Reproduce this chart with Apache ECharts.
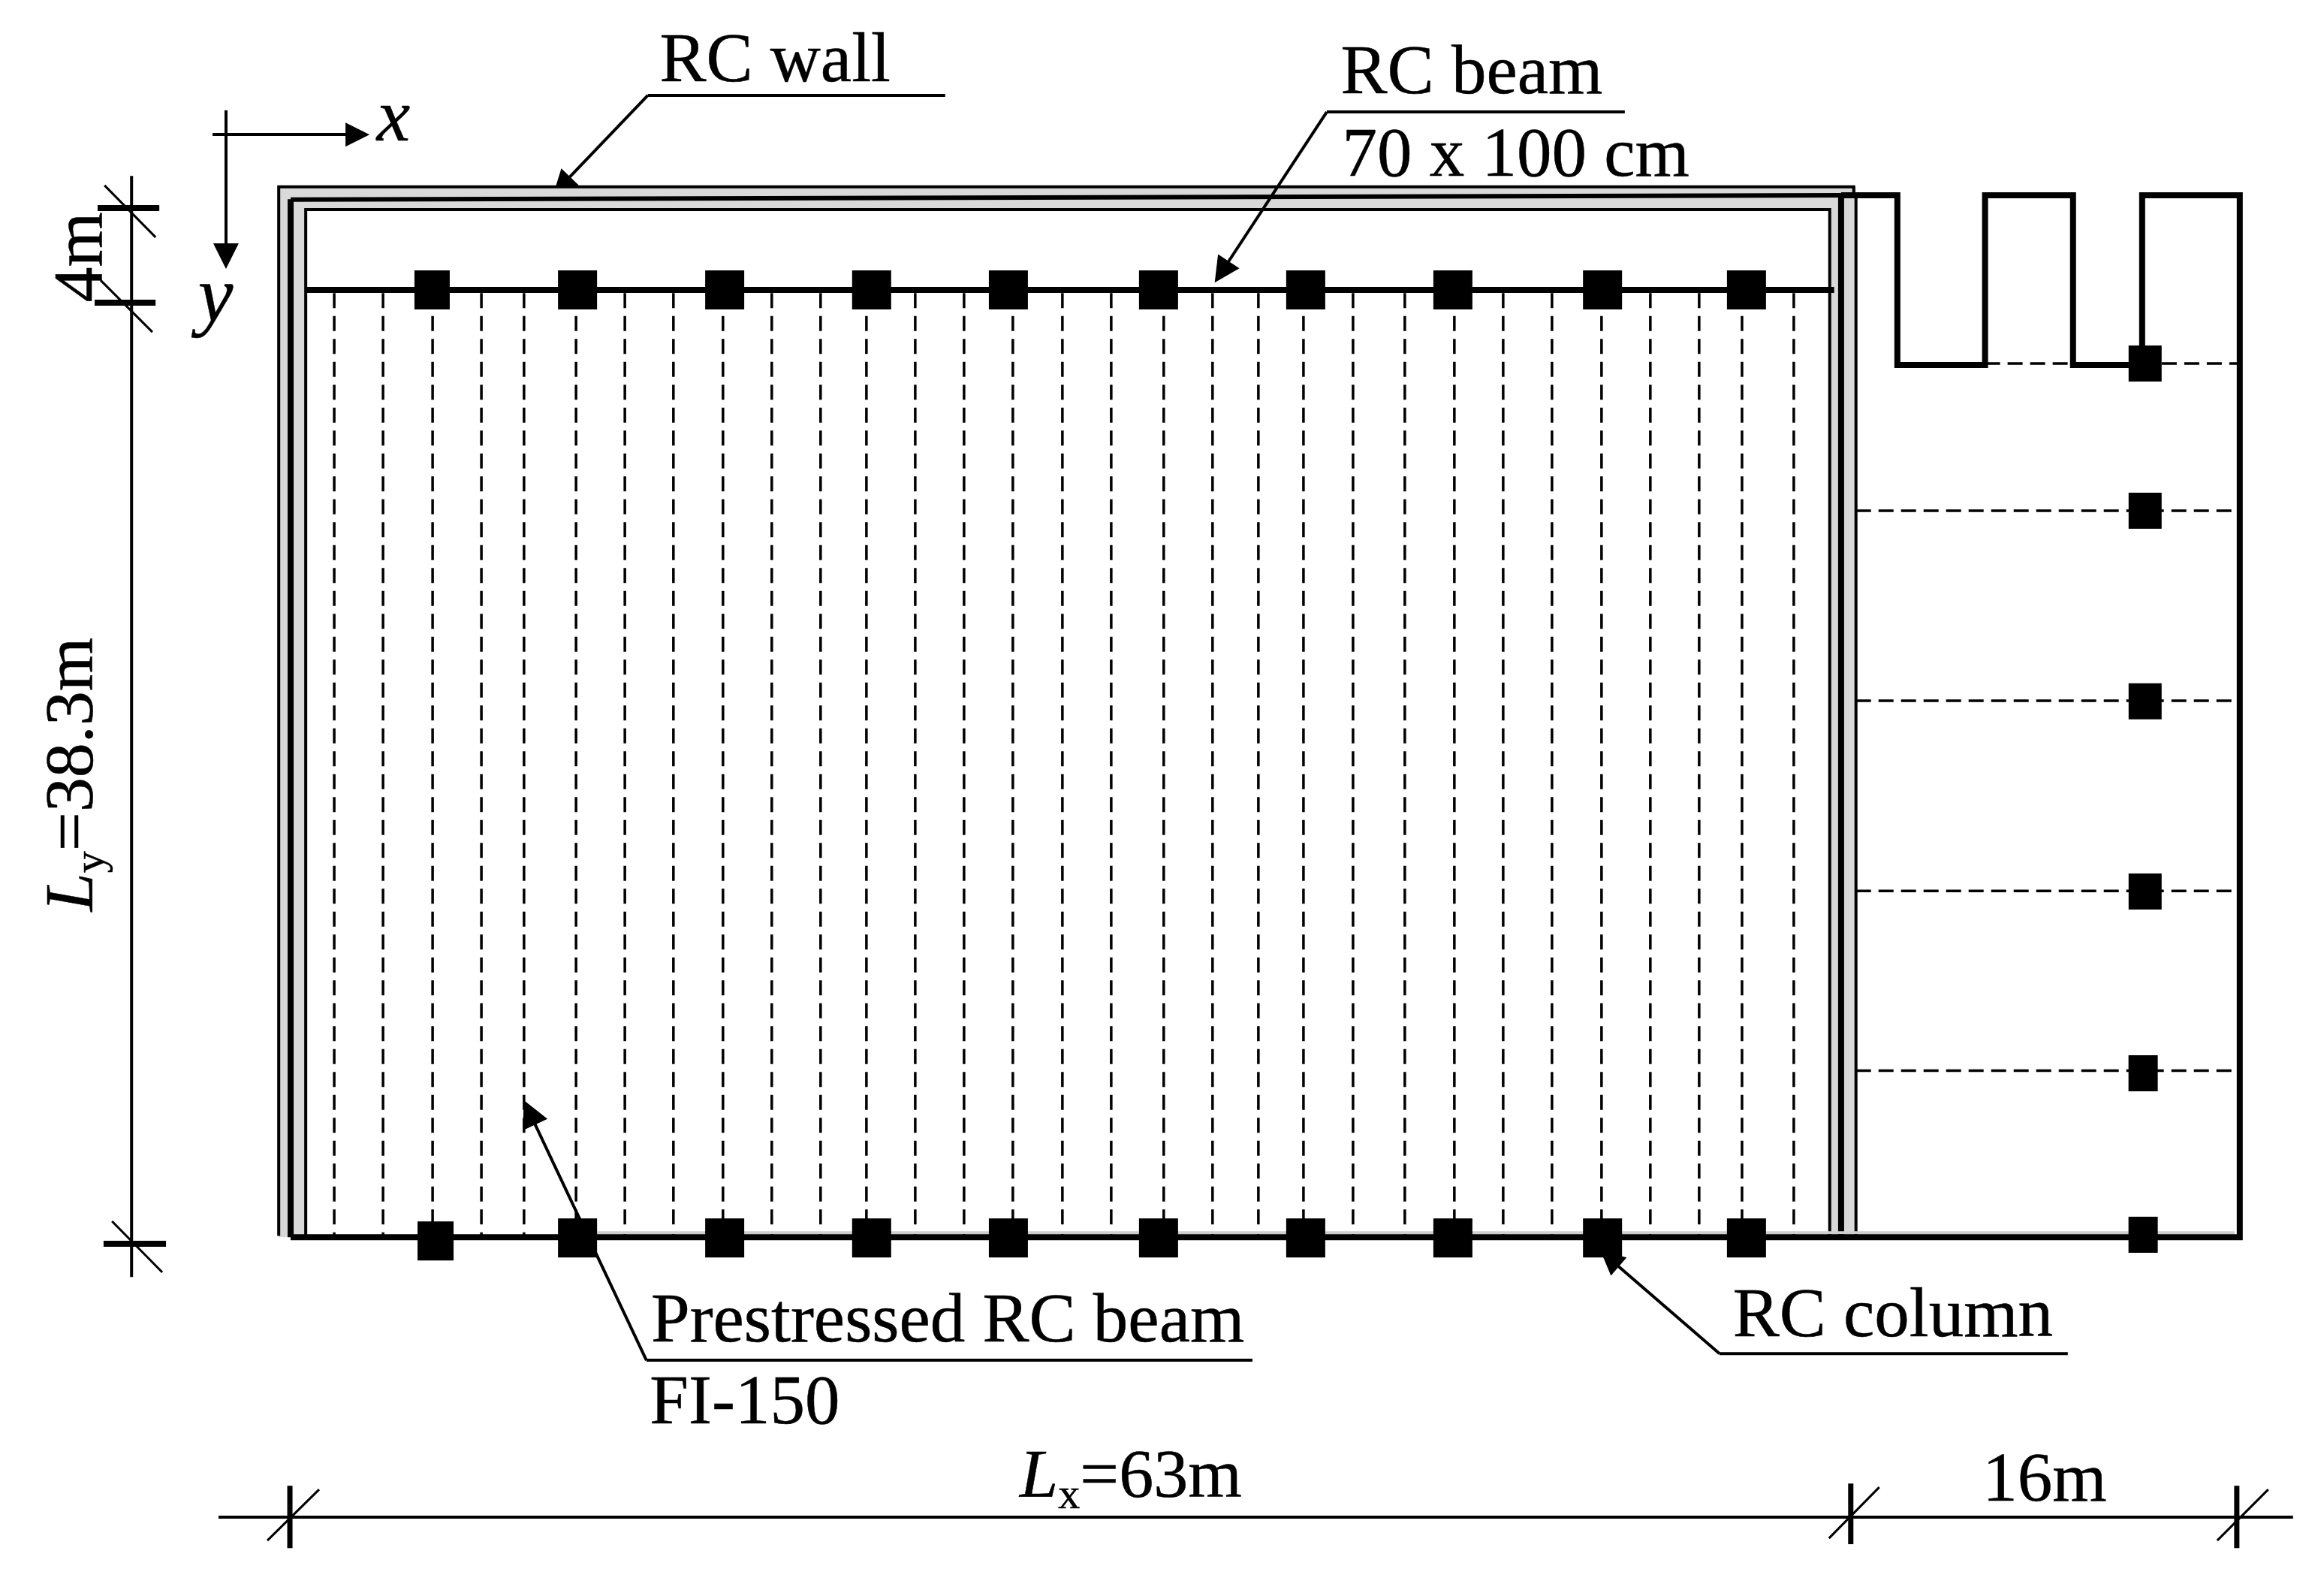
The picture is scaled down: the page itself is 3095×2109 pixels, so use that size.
<!DOCTYPE html>
<html>
<head>
<meta charset="utf-8">
<script src="https://cdn.jsdelivr.net/npm/echarts@6/dist/echarts.min.js"></script>
<style>
  html, body { margin: 0; padding: 0; background: #fff; }
  #main { width: 3095px; height: 2109px; }
</style>
</head>
<body>
<div id="main"></div>
<script>
// plan of the hall, everything in metres, origin at the x/y dimension origin
const beamDashX = [1.79, 3.76, 5.76, 7.73, 9.45, 11.55, 13.52, 15.48, 17.48, 19.45, 21.42, 23.27, 25.24, 27.21, 29.18, 31.18,
  33.15, 35.27, 37.24, 39.09, 40.91, 42.91, 45.0, 47.0, 48.97, 50.94, 52.94, 54.91, 56.88, 58.61, 60.7];
const columnX = [5.74, 11.61, 17.55, 23.48, 29.0, 35.06, 41.0, 46.94, 52.98, 58.79];
const columnXBottom = [5.88, 11.61, 17.55, 23.48, 29.0, 35.06, 41.0, 46.94, 52.98, 58.79];
const columnYTop = 3.33;
const columnYBottom = 41.93;
const sideColumnX = [74.88, 74.88, 74.88, 74.88, 74.8, 74.8];
const sideColumnY = [6.33, 12.32, 20.08, 27.83, 35.23, 41.8];
const sideDashY = [12.32, 20.06, 27.8, 35.12];

const stepOutline = [[62.61, -0.52], [64.88, -0.52], [64.88, 6.39], [68.42, 6.39], [68.42, -0.52], [71.97, -0.52], [71.97, 6.39],
  [74.76, 6.39], [74.76, -0.52], [78.7, -0.52], [78.7, 41.9], [0.03, 41.9]];

const noteTexts = ['RC wall', 'RC beam', '70 x 100 cm', 'Prestressed RC beam', 'FI-150', 'RC column', '16m'];
const noteAt = [[19.58, -5.91], [47.7, -5.42], [49.48, -2.05], [26.55, 45.41], [18.36, 48.74], [64.7, 45.19], [70.82, 51.89]];

const serif = 'Liberation Serif';
const series = [];
let layer = 1;

function poly(points, width, color, dash) {
  series.push({
    type: 'line', data: points, symbol: 'none', silent: true, animation: false, z: layer++,
    lineStyle: { width: width, color: color || '#000', type: dash || 'solid', cap: 'butt', join: 'miter' }
  });
}
function arrow(from, to, size, width) {
  series.push({
    type: 'lines', coordinateSystem: 'cartesian2d', silent: true, animation: false, z: layer++,
    symbol: ['none', 'triangle'], symbolSize: size,
    lineStyle: { width: width, color: '#000', opacity: 1, curveness: 0 },
    data: [{ coords: [from, to] }]
  });
}
function note(text, at, size, extra) {
  series.push({
    type: 'scatter', silent: true, animation: false, z: 90, symbolSize: 1, itemStyle: { color: 'transparent', opacity: 1 },
    data: [{ value: at }],
    label: Object.assign({
      show: true, position: 'inside', align: 'center', verticalAlign: 'middle', color: '#000',
      textBorderColor: '#000', textBorderWidth: 0.5,
      fontFamily: serif, fontSize: size, formatter: text
    }, extra || {})
  });
}

// leader of the RC wall sits under the wall band
poly([[14.45, -4.59], [26.45, -4.59]], 4);
arrow([14.45, -4.59], [10.97, -0.92], 32, 4);

// wall bands
poly([[-0.45, -0.4], [63.21, -0.4]], 30, '#d9d9d9');
poly([[0.09, -0.86], [0.09, 41.9]], 36, '#d9d9d9');
poly([[62.7, -0.4], [62.7, 41.9]], 35, '#d9d9d9');

// wall outlines
poly([[-0.45, 41.85], [-0.45, -0.86], [63.12, -0.86], [63.12, -0.52]], 4);
poly([[0.64, 41.9], [0.64, 0.06], [62.15, 0.06], [62.15, 41.9]], 4);
poly([[63.21, -0.52], [63.21, 41.9]], 4);
poly([[0.03, -0.36], [0.03, 41.9]], 8);
poly([[62.61, -0.52], [62.61, 41.99]], 8);
poly([[0.03, -0.34], [62.61, -0.52]], 6);

// floor beams
beamDashX.forEach(function (x) { poly([[x, 3.46], [x, 41.9]], 3.5, '#000', [20, 10.5]); });
sideDashY.forEach(function (y) { poly([[63.21, y], [78.7, y]], 3.5, '#000', [20, 10]); });
poly([[68.42, 6.33], [71.97, 6.33]], 3.5, '#000', [20, 10]);
poly([[75.55, 6.33], [78.7, 6.33]], 3.5, '#000', [20, 10]);

poly([[0.64, 3.33], [62.33, 3.33]], 8);
poly([[11, 41.72], [78.5, 41.72]], 4, '#cfcfcf');
poly(stepOutline, 8);

// columns
series.push({
  type: 'scatter', silent: true, animation: false, z: 60, symbol: 'rect',
  symbolSize: function (v, p) { return p.dataIndex === 0 ? [47, 52] : [52, 52]; },
  itemStyle: { color: '#000', opacity: 1 },
  data: columnX.map(function (x) { return [x, columnYTop]; })
});
series.push({
  type: 'scatter', silent: true, animation: false, z: 60, symbol: 'rect',
  symbolSize: function (v, p) { return p.dataIndex === 0 ? [48, 52] : [52, 52]; },
  itemStyle: { color: '#000', opacity: 1 },
  data: columnXBottom.map(function (x, i) { return [x, i === 0 ? 42.05 : columnYBottom]; })
});
series.push({
  type: 'scatter', silent: true, animation: false, z: 60, symbol: 'rect',
  symbolSize: function (v, p) { return p.dataIndex > 3 ? [39, 48] : [44, 48]; },
  itemStyle: { color: '#000', opacity: 1 },
  data: sideColumnX.map(function (x, i) { return [x, sideColumnY[i]]; })
});

// other leaders
layer = 70;
poly([[41.85, -3.91], [53.88, -3.91]], 4);
arrow([41.85, -3.91], [37.61, 2.6], 34, 4);
poly([[14.39, 46.91], [38.85, 46.91]], 4);
arrow([14.39, 46.91], [9.67, 36.82], 36, 4);
poly([[57.7, 46.64], [71.76, 46.64]], 4);
arrow([57.7, 46.64], [53.27, 42.78], 32, 4);

// x / y directions
arrow([-3.12, -2.99], [2.73, -2.99], 32, 4);
arrow([-2.58, -3.98], [-2.58, 1.96], 34, 4);

// dimension lines, left
poly([[-6.39, -1.31], [-6.39, 43.52]], 4);
poly([[-7.76, 0], [-5.27, 0]], 8);
poly([[-7.88, 3.85], [-5.42, 3.85]], 8);
poly([[-7.52, 42.17], [-5.0, 42.17]], 8);
poly([[-7.48, -0.92], [-5.42, 1.19]], 3);
poly([[-7.64, 2.94], [-5.55, 5.05]], 3);
poly([[-7.18, 41.25], [-5.15, 43.33]], 3);

// dimension lines, bottom
poly([[-2.88, 53.3], [80.85, 53.3]], 4);
poly([[0, 52.02], [0, 54.56]], 7);
poly([[63.0, 51.93], [63.0, 54.4]], 7);
poly([[78.58, 52.02], [78.58, 54.56]], 7);
poly([[1.18, 52.17], [-0.91, 54.25]], 3);
poly([[64.15, 52.08], [62.12, 54.16]], 3);
poly([[79.85, 52.17], [77.79, 54.25]], 3);

// texts
noteTexts.forEach(function (t, i) { note(t, noteAt[i], 93); });
const inkBorder = { textBorderColor: '#000', textBorderWidth: 0.5, color: '#000', fontFamily: serif, lineHeight: 105 };
const dimRich = {
  i: Object.assign({ fontSize: 92, fontStyle: 'italic' }, inkBorder),
  s: Object.assign({ fontSize: 58, verticalAlign: 'bottom' }, inkBorder),
  n: Object.assign({ fontSize: 92 }, inkBorder)
};
note('{i|L}{s|x}{n|=63m}', [33.94, 51.74], 92, { rich: dimRich });
note('{i|L}{s|y}{n|=38.3m}', [-8.7, 23.06], 92, { rich: dimRich, rotate: 90 });
note('4m', [-8.37, 2.0], 94, { rotate: 90 });
note('x', [4.18, -3.55], 100, { fontStyle: 'italic' });
note('y', [-3.0, 3.75], 105, { fontStyle: 'italic' });

const chart = echarts.init(document.getElementById('main'));
chart.setOption({
  backgroundColor: '#fff',
  animation: false,
  grid: { left: 0, right: 0, top: 0, bottom: 0 },
  xAxis: { type: 'value', min: -11.7, max: 82.1, show: false },
  yAxis: { type: 'value', min: -8.47, max: 56.02, inverse: true, show: false },
  series: series
});
</script>
</body>
</html>
